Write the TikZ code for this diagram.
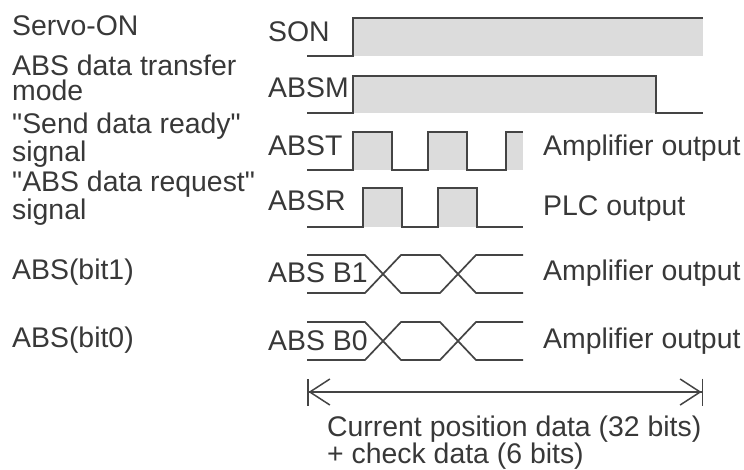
\documentclass[tikz,border=0pt]{standalone}
\usepackage{fontspec}
\setmainfont{Liberation Sans}
\usepackage{tikz}
\usetikzlibrary{arrows.meta,positioning}
\definecolor{ink}{HTML}{383838}
\definecolor{wave}{HTML}{444444}
\definecolor{shade}{HTML}{DCDCDC}

\begin{document}
\begin{tikzpicture}[x=1pt,y=-1pt,
  lbl/.style={anchor=west,inner sep=0pt,text=ink,align=left,font=\fontsize{28.4}{25}\selectfont},
  sig/.style={draw=wave,line width=1.7pt},
  hi/.style={fill=shade}]
\useasboundingbox (0,0) rectangle (744,469);
% left column
\node[lbl] (servo) at (12,26) {Servo-ON};
\node[lbl] (mode) at (12,78) {ABS data transfer\\mode};
\node[lbl] (ready) at (12,140) {\textquotedbl Send data ready\textquotedbl\\signal};
\node[lbl] (req) at (12,198) {\textquotedbl ABS data request\textquotedbl\\signal};
\node[lbl] (bit1) at (12,272) {ABS(bit1)};
\node[lbl] (bit0) at (12,340) {ABS(bit0)};
% signal names
\node[lbl] (son) at (268,32) {SON};
\node[lbl] (absm) at (268,88) {ABSM};
\node[lbl] (abst) at (268,146) {ABST};
\node[lbl] (absr) at (268,201) {ABSR};
\node[lbl] (b1) at (268,273) {ABS B1};
\node[lbl] (b0) at (268,341) {ABS B0};
% outputs
\node[lbl] (outt) at (543,148) {Amplifier output};
\node[lbl] (outr) at (543,209) {PLC output};
\node[lbl] (out1) at (543,273) {Amplifier output};
\node[lbl] (out0) at (543,341) {Amplifier output};
% SON
\fill[hi] (353,18) rectangle (703,56);
\draw[sig] (307,56) -| (353,18) -- (703,18);
% ABSM
\fill[hi] (353,76) rectangle (656,113);
\draw[sig] (307,113) -| (353,76) -| (656,113) -- (703,113);
% ABST
\fill[hi] (353,132) rectangle (392,170);
\fill[hi] (428,132) rectangle (467,170);
\fill[hi] (506,132) rectangle (523,170);
\draw[sig] (307,170) -| (353,132) -| (392,170) -| (428,132) -| (467,170) -| (506,132) -- (523,132);
% ABSR
\fill[hi] (363,188) rectangle (402,227);
\fill[hi] (438,188) rectangle (477,227);
\draw[sig] (307,227) -| (363,188) -| (402,227) -| (438,188) -| (477,227) -- (523,227);
% data bits
\draw[sig] (307,255) -- (365,255) -- (401,293) -- (440,293) -- (476,255) -- (523,255);
\draw[sig] (307,293) -- (365,293) -- (401,255) -- (440,255) -- (476,293) -- (523,293);
\draw[sig] (307,322) -- (365,322) -- (401,360) -- (440,360) -- (476,322) -- (523,322);
\draw[sig] (307,360) -- (365,360) -- (401,322) -- (440,322) -- (476,360) -- (523,360);
% span of the data
\coordinate (spanl) at (307,392);
\coordinate (spanr) at (703,392);
\draw[sig,line width=1.5pt,{Bar[width=27pt]Straight Barb[length=20pt,width=26pt]}-{Straight Barb[length=20pt,width=26pt]Bar[width=27pt]}] (spanl) -- (spanr);
\node[lbl,font=\fontsize{28.4}{27}\selectfont] (span) at (327,443) {Current position data (32 bits)\\+ check data (6 bits)};
\end{tikzpicture}
\end{document}
